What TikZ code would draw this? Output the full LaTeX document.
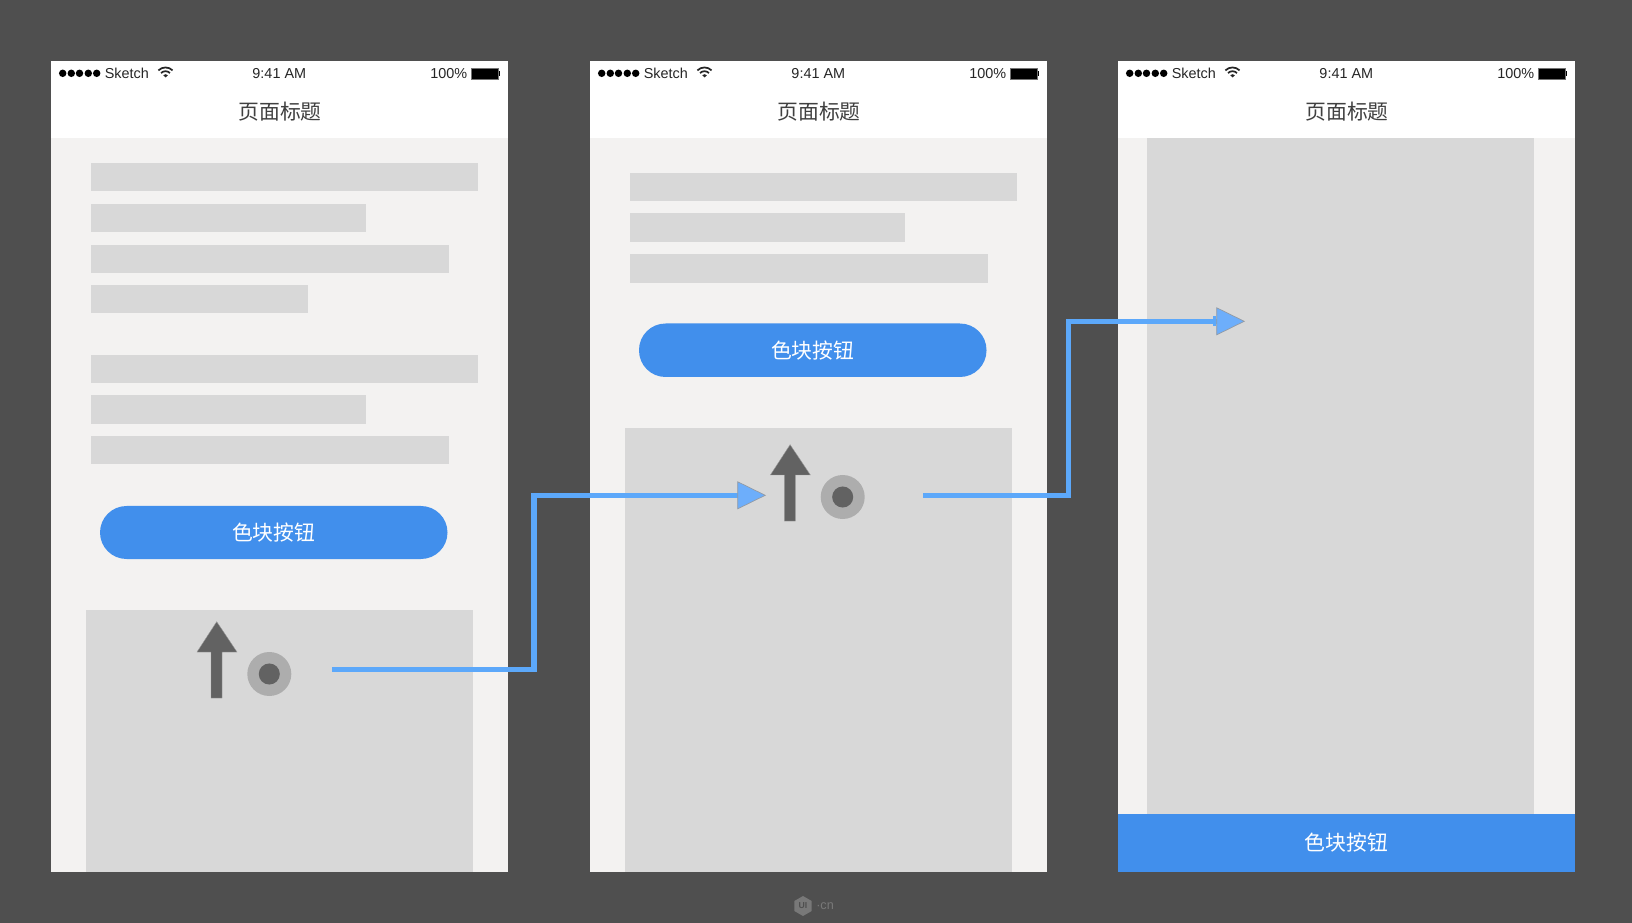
\documentclass[tikz,border=0pt]{standalone}
\usepackage{fontspec}
\setmainfont{Liberation Sans}
\newfontfamily\cjk{Noto Sans CJK SC}
\usetikzlibrary{arrows.meta,shapes.geometric}
\definecolor{bgc}{HTML}{4F4F4F}
\definecolor{bodyc}{HTML}{F3F2F1}
\definecolor{barc}{HTML}{D8D8D8}
\definecolor{btnc}{HTML}{418FEC}
\definecolor{connc}{HTML}{5CA8FA}
\definecolor{tipc}{HTML}{6DAEFB}
\definecolor{iconc}{HTML}{626262}
\definecolor{ringc}{HTML}{ADADAD}
\definecolor{titlec}{HTML}{404040}
\definecolor{markc}{HTML}{787878}
\definecolor{tipedge}{HTML}{949AA2}
\tikzset{
  bx/.style={rectangle,inner sep=0pt,outer sep=0pt,draw=none},
  whitebox/.style={bx,fill=white},
  bodybox/.style={bx,fill=bodyc},
  barbox/.style={bx,fill=barc},
  btnbox/.style={bx,fill=btnc,text=white,font=\cjk\fontsize{15.6}{18}\selectfont},
  pillbox/.style={btnbox,rounded corners=19.9pt},
  titletext/.style={inner sep=0pt,text=titlec,font=\cjk\fontsize{15.6}{18}\selectfont},
  stat/.style={inner sep=0pt,text=black!85,font=\fontsize{10.8}{12}\selectfont},
  ring/.style={circle,inner sep=0pt,outer sep=0pt,minimum size=33pt,fill=ringc},
  dot/.style={circle,inner sep=0pt,minimum size=15.8pt,fill=iconc},
  sdot/.style={circle,inner sep=0pt,minimum size=5.6pt,fill=black},
  conn/.style={draw=connc,line width=4.1pt,miter limit=10,
    -{Triangle[length=21.5pt,width=21pt,line width=.5pt,color=tipedge,fill=tipc]}},
}
% name, style, x1, y1, x2, y2, text
\newcommand\bxn[7]{\node[#2,minimum width={(#5-#3)*0.75pt},minimum height={(#6-#4)*0.75pt}] (#1) at ({(#3+#5)/2},{(#4+#6)/2}) {#7};}
% prefix: a phone frame with header
\newcommand\phone[1]{%
  \bxn{#1screen}{whitebox}{51}{61}{508}{872}{}
  \bxn{#1body}{bodybox}{51}{138.5}{508}{872}{}
  \node[titletext] (#1title) at (280,112) {页面标题};
  \foreach \i/\x in {1/62.7,2/71.3,3/79.5,4/88.3,5/96.7} \node[sdot] (#1d\i) at (\x,73.3) {};
  \node[stat,anchor=base west] (#1carrier) at (104.5,78.8) {Sketch};
  \node[stat,anchor=base] (#1time) at (279.3,78.8) {9:41 AM};
  \node[stat,anchor=base east] (#1pct) at (467.5,78.8) {100\%};
  \bxn{#1batt}{bx,fill=black,draw=black!55,line width=.6pt}{471.7}{68.3}{498}{79}{}
  \bxn{#1nub}{bx,fill=black}{498.8}{71.5}{500.3}{76}{}
  \fill[black!85] (165.5,77.5) -- (163.2,75.2) arc[start angle=225,end angle=315,radius=3.3] -- cycle;
  \draw[black!85,line width=1.3pt] (161.05,73.05) arc[start angle=225,end angle=315,radius=6.3];
  \draw[black!85,line width=1.3pt] (158.4,70.4) arc[start angle=225,end angle=315,radius=10];
}
% prefix, dx, dy
\newcommand\touch[3]{%
  \begin{scope}[shift={(#2,#3)}]
    \fill[iconc,draw=black!40,line width=.3pt] (216.7,621.7) -- (237,652) -- (222,652) -- (222,698) -- (211,698) -- (211,652) -- (197,652) -- cycle;
    \node[ring] (#1ring) at (269.3,674) {};
    \node[dot] (#1dot) at (269.3,674) {};
  \end{scope}
}
\begin{document}
\begin{tikzpicture}[x=0.75pt,y=-0.75pt]
\useasboundingbox (0,0) rectangle (1632,923);
\fill[bgc] (0,0) rectangle (1632,923);

% Screen 1
\phone{a}
\bxn{a1}{barbox}{90.5}{163.5}{478}{191.5}{}
\bxn{a2}{barbox}{90.5}{204}{366}{232.5}{}
\bxn{a3}{barbox}{90.5}{245}{449}{273}{}
\bxn{a4}{barbox}{90.5}{285.5}{308}{313.5}{}
\bxn{a5}{barbox}{90.5}{355}{478}{383}{}
\bxn{a6}{barbox}{90.5}{395.5}{366}{424}{}
\bxn{a7}{barbox}{90.5}{436.5}{449}{464.5}{}
\bxn{abtn}{pillbox}{100}{506}{447.5}{559}{色块按钮}
\bxn{apanel}{barbox}{86}{609.5}{473}{872}{}
\touch{a}{0}{0}

% Screen 2
\begin{scope}[shift={(539,0)}]
\phone{b}
\bxn{b1}{barbox}{90.5}{173}{478}{201.5}{}
\bxn{b2}{barbox}{90.5}{213.5}{366}{242.5}{}
\bxn{b3}{barbox}{90.5}{254.5}{449}{283}{}
\bxn{bbtn}{pillbox}{100}{323.5}{447.5}{377}{色块按钮}
\bxn{bpanel}{barbox}{86}{428}{473}{872}{}
\end{scope}
\touch{b}{573.4}{-177}

% Screen 3
\begin{scope}[shift={(1067,0)}]
\phone{c}
\bxn{cpanel}{barbox}{79.5}{138.5}{466.5}{814}{}
\bxn{cbtn}{btnbox}{51}{814}{508}{872}{色块按钮}
\end{scope}

% Connectors
\coordinate (s1) at (332,669.7);
\coordinate (m1a) at (534,669.7);
\coordinate (m1b) at (534,495.3);
\coordinate (e1) at (766,495.3);
\coordinate (s2) at (923,495.3);
\coordinate (m2a) at (1068.7,495.3);
\coordinate (m2b) at (1068.7,321.3);
\coordinate (e2) at (1245,321.3);
\bxn{stub}{bx,fill=connc}{1213}{316.3}{1216}{326.3}{}
\draw[conn] (s1) -- (m1a) -- (m1b) -- (e1);
\draw[conn] (s2) -- (m2a) -- (m2b) -- (e2);

% Watermark
\node[regular polygon,regular polygon sides=6,shape border rotate=30,fill=markc,inner sep=0pt,minimum size=15pt,
      text=bgc,font=\bfseries\fontsize{6.5}{8}\selectfont] (logo) at (803,906) {UI};
\node[inner sep=0pt,text=markc,anchor=west,font=\fontsize{9.5}{10}\selectfont] (cn) at (816,906.5) {·cn};
\end{tikzpicture}
\end{document}
